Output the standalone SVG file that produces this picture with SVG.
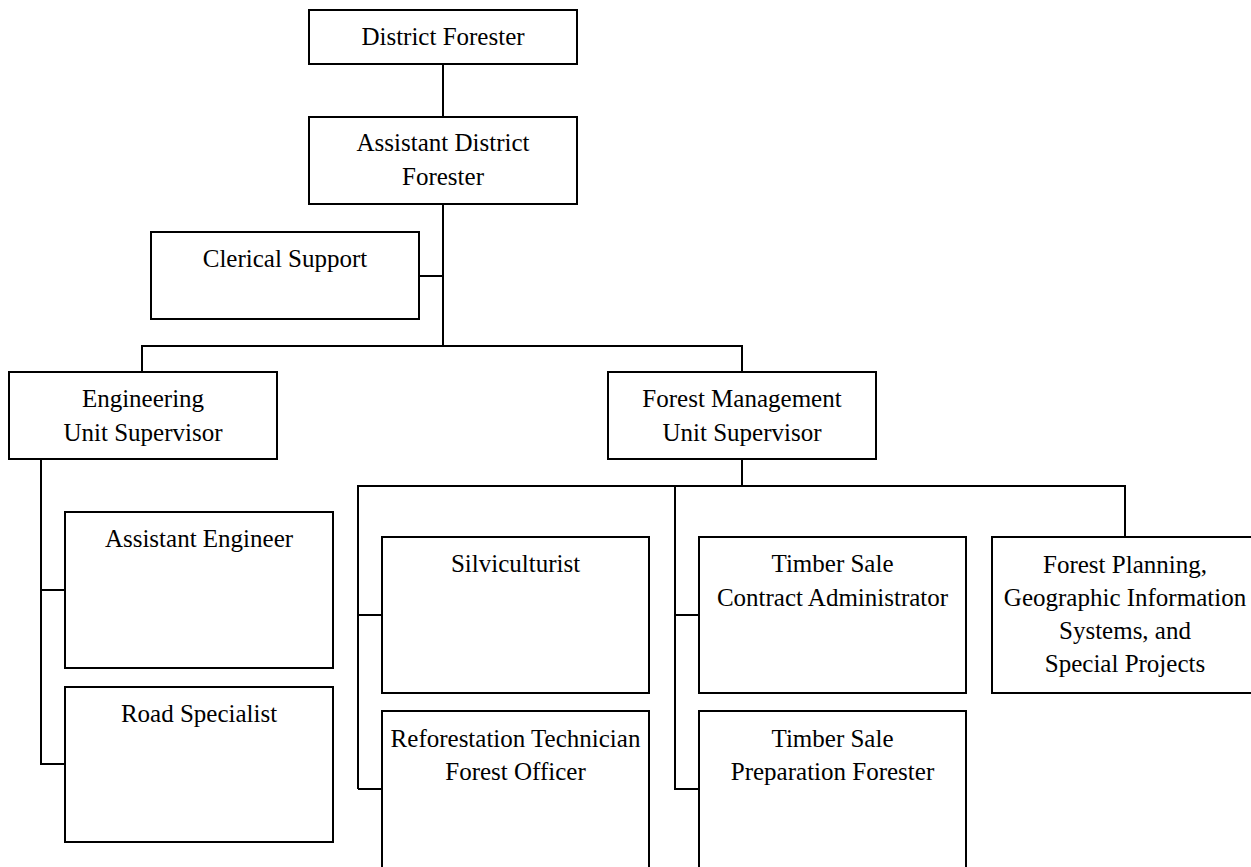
<svg xmlns="http://www.w3.org/2000/svg" width="1251" height="867" viewBox="0 0 1251 867">
<style>
.box{fill:#fff;stroke:#000;stroke-width:2}
.lbl{font-family:"Liberation Serif","Times New Roman",serif;font-size:25px;fill:#000;text-anchor:middle}
.con{fill:none;stroke:#000;stroke-width:2}
</style>
<rect width="1251" height="867" fill="#fff"/>
<g id="connectors" class="con">
<path d="M443,64 V117"/>
<path d="M443,204 V346"/>
<path d="M419,276 H443"/>
<path d="M142,372 V346 H742 V372"/>
<path d="M41,459 V764 H65"/>
<path d="M41,590 H65"/>
<path d="M742,459 V486"/>
<path d="M358,789 V486 H1125 V537"/>
<path d="M358,789 H382"/>
<path d="M358,615 H382"/>
<path d="M675,486 V789 H699"/>
<path d="M675,615 H699"/>
</g>
<g id="district-forester"><rect class="box" x="309" y="10" width="268" height="54"/><text class="lbl" x="443" y="45">District Forester</text></g>
<g id="assistant-district-forester"><rect class="box" x="309" y="117" width="268" height="87"/><text class="lbl" x="443" y="151">Assistant District</text><text class="lbl" x="443" y="185">Forester</text></g>
<g id="clerical-support"><rect class="box" x="151" y="232" width="268" height="87"/><text class="lbl" x="285" y="267">Clerical Support</text></g>
<g id="engineering-unit-supervisor"><rect class="box" x="9" y="372" width="268" height="87"/><text class="lbl" x="143" y="407">Engineering</text><text class="lbl" x="143" y="441">Unit Supervisor</text></g>
<g id="forest-management-unit-supervisor"><rect class="box" x="608" y="372" width="268" height="87"/><text class="lbl" x="742" y="407">Forest Management</text><text class="lbl" x="742" y="441">Unit Supervisor</text></g>
<g id="assistant-engineer"><rect class="box" x="65" y="512" width="268" height="156"/><text class="lbl" x="199" y="547">Assistant Engineer</text></g>
<g id="road-specialist"><rect class="box" x="65" y="687" width="268" height="155"/><text class="lbl" x="199" y="722">Road Specialist</text></g>
<g id="silviculturist"><rect class="box" x="382" y="537" width="267" height="156"/><text class="lbl" x="515.5" y="572">Silviculturist</text></g>
<g id="reforestation-technician"><rect class="box" x="382" y="711" width="267" height="160"/><text class="lbl" x="515.5" y="747">Reforestation Technician</text><text class="lbl" x="515.5" y="780">Forest Officer</text></g>
<g id="timber-sale-contract-administrator"><rect class="box" x="699" y="537" width="267" height="156"/><text class="lbl" x="832.5" y="572">Timber Sale</text><text class="lbl" x="832.5" y="606">Contract Administrator</text></g>
<g id="timber-sale-preparation-forester"><rect class="box" x="699" y="711" width="267" height="160"/><text class="lbl" x="832.5" y="747">Timber Sale</text><text class="lbl" x="832.5" y="780">Preparation Forester</text></g>
<g id="forest-planning"><rect class="box" x="992" y="537" width="266" height="156"/><text class="lbl" x="1125" y="573">Forest Planning,</text><text class="lbl" x="1125" y="606">Geographic Information</text><text class="lbl" x="1125" y="639">Systems, and</text><text class="lbl" x="1125" y="672">Special Projects</text></g>
</svg>
